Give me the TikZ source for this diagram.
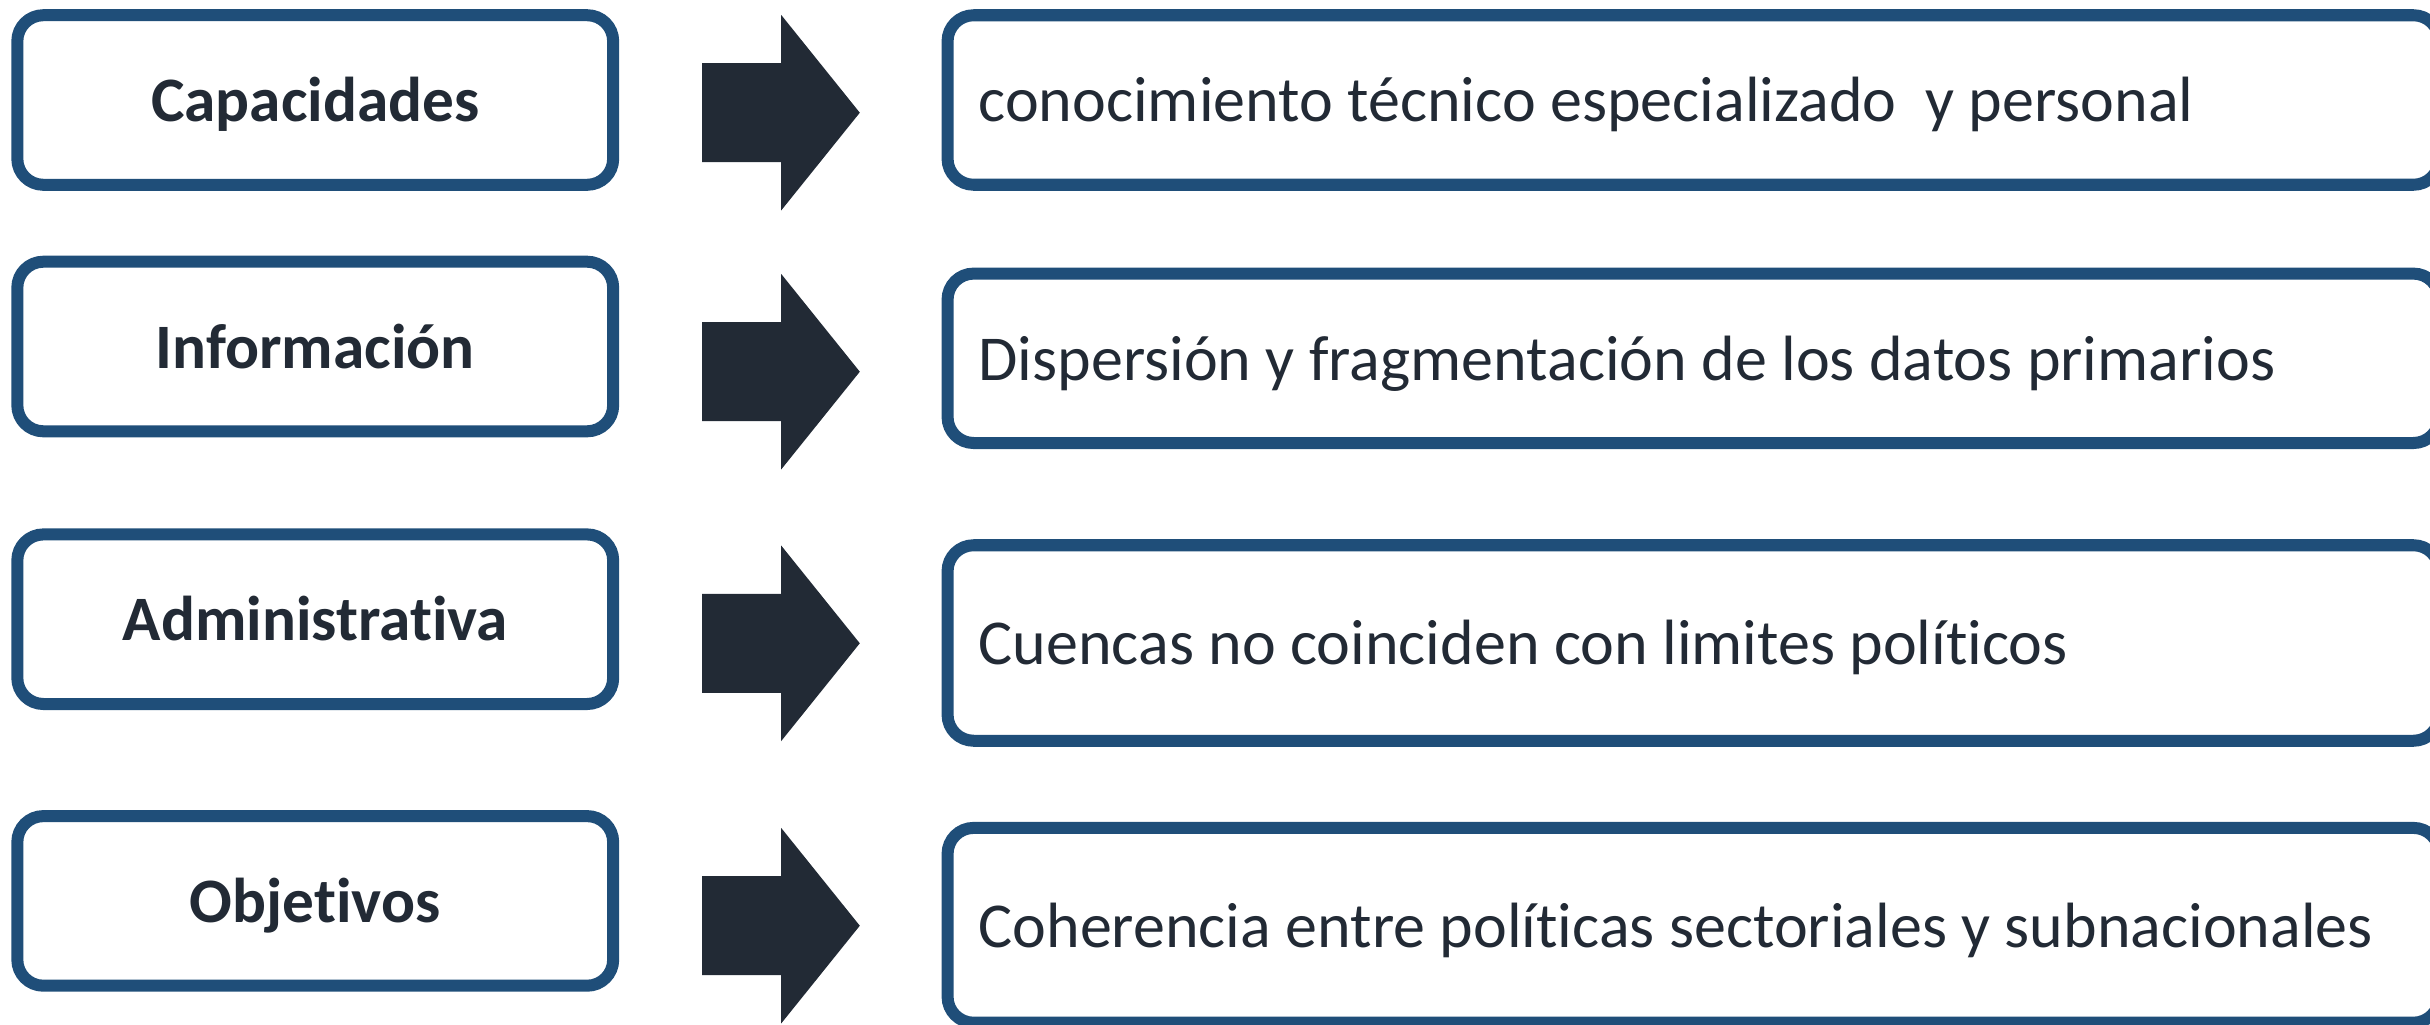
\documentclass[tikz,border=0pt]{standalone}
\usepackage{fontspec}
\setmainfont{Carlito}[Ligatures=NoCommon]
\usetikzlibrary{shapes.arrows}
\definecolor{boxblue}{HTML}{1F4E79}
\definecolor{darktext}{HTML}{222A35}

\begin{document}
\begin{tikzpicture}
[x=0.01cm,y=-0.01cm,
lab/.style={rectangle,rounded corners=0.26cm,draw=boxblue,line width=0.12cm,fill=white,minimum width=5.955cm,minimum height=1.695cm,inner sep=0pt,text=darktext,font=\fontsize{18}{20}\selectfont\bfseries,text height=0.5cm,text depth=0.066cm},
desc/.style={rectangle,rounded corners=0.26cm,draw=boxblue,line width=0.12cm,fill=white,minimum width=14.91cm,inner xsep=0.31cm,inner ysep=0pt,text width=14.29cm,align=left,execute at begin node={\spaceskip=0pt\xspaceskip=0pt},text=darktext,font=\fontsize{18.2}{20}\selectfont,text height=0.5cm,text depth=0.066cm},
blk/.style={single arrow,fill=darktext,inner sep=0pt,text height=0.975cm,text depth=0pt,minimum height=1.575cm,minimum width=1.94cm,single arrow head extend=0.4825cm,single arrow tip angle=102.4,anchor=tail}]
\useasboundingbox (0,0) rectangle (2430,1024);
\node[lab] at (315.25,100) (l1) {Capacidades};
\node[lab] at (315.25,346.5) (l2) {Información};
\node[lab] at (315.25,619.2) (l3) {Administrativa};
\node[lab] at (315.25,900.9) (l4) {Objetivos};
\node[blk] at (701.5,112.7) (a1) {};
\node[blk] at (701.5,371.7) (a2) {};
\node[blk] at (701.5,643.3) (a3) {};
\node[blk] at (701.5,925.7) (a4) {};
\node[desc,minimum height=1.694cm] at (1693.5,100) (d1) {conocimiento técnico especializado\ \ y personal};
\node[desc,minimum height=1.693cm] at (1693.5,358.3) (d2) {Dispersión y fragmentación de los datos primarios};
\node[desc,minimum height=1.954cm] at (1693.5,643) (d3) {Cuencas no coinciden con limites políticos};
\node[desc,minimum height=1.947cm] at (1693.5,925.3) (d4) {Coherencia entre políticas sectoriales y subnacionales};
\end{tikzpicture}
\end{document}
